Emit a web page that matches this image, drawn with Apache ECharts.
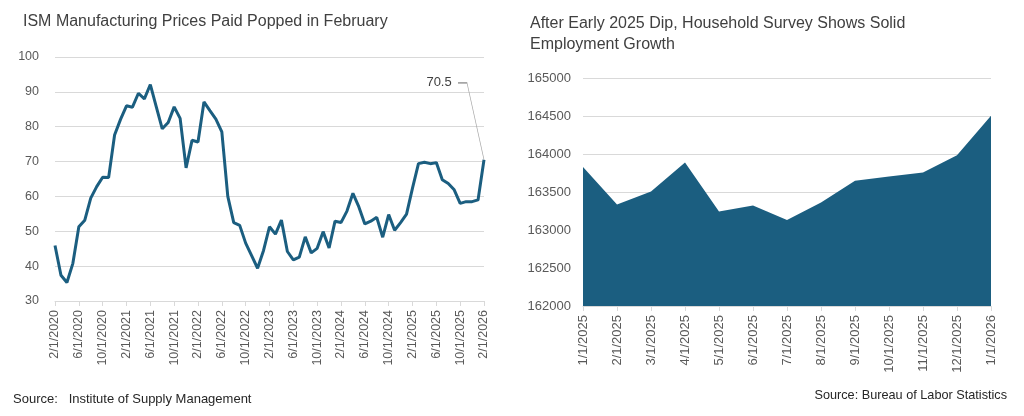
<!DOCTYPE html>
<html><head><meta charset="utf-8">
<script src="https://cdn.jsdelivr.net/npm/echarts@6/dist/echarts.min.js"></script>
<style>html,body{margin:0;padding:0;background:#fff}#c{width:1024px;height:416px}</style>
</head><body><div id="c"></div>
<script>
// ---- Left chart data: ISM Manufacturing Prices Paid, monthly 2/2020 - 2/2026
const ismStart = {year: 2020, month: 2};
const ismCount = 73;
const ismValues = [
  45.9, 37.4, 35.3, 40.8, 51.3, 53.2, 59.5, 62.8, 65.5, 65.4, 77.6,
  82.1, 86.0, 85.6, 89.6, 88.0, 92.1, 85.7, 79.4, 81.2, 85.7, 82.4, 68.2,
  76.1, 75.6, 87.1, 84.6, 82.2, 78.5, 60.0, 52.5, 51.7, 46.6, 43.0, 39.4,
  44.5, 51.3, 49.2, 53.2, 44.2, 41.8, 42.6, 48.4, 43.8, 45.1, 49.9, 45.2,
  52.9, 52.5, 55.8, 60.9, 57.0, 52.1, 52.9, 54.0, 48.3, 54.8, 50.3, 52.5,
  54.9, 62.4, 69.4, 69.8, 69.4, 69.7, 64.8, 63.7, 61.9, 58.0, 58.5, 58.5,
  59.0, 70.5
];
const ismCategories = [];
for (let i = 0; i < ismCount; i++) {
  const m0 = ismStart.month - 1 + i;
  const y = ismStart.year + Math.floor(m0 / 12);
  const m = (m0 % 12) + 1;
  ismCategories.push(m + '/1/' + y);
}
const ismYTicks = {min: 30, max: 100, interval: 10};

// ---- Right chart data: Household survey employment (thousands)
const empCategories = ['1/1/2025','2/1/2025','3/1/2025','4/1/2025','5/1/2025','6/1/2025','7/1/2025','8/1/2025','9/1/2025','10/1/2025','11/1/2025','12/1/2025','1/1/2026'];
const empValues = [163830, 163335, 163506, 163888, 163243, 163322, 163133, 163361, 163647, 163704, 163757, 163985, 164503];
const empYTicks = {min: 162000, max: 165000, interval: 500};

const titles = {
  left: 'ISM Manufacturing Prices Paid Popped in February',
  right: 'After Early 2025 Dip, Household Survey Shows Solid\nEmployment Growth',
  leftSource: 'Source:   Institute of Supply Management',
  rightSource: 'Source: Bureau of Labor Statistics'
};

const FONT = 'Liberation Sans';
const LBL = '#595959';
const GRID = '#d9d9d9';
const BLUE = '#1b5e80';

const lastIdx = ismValues.length - 1;

const chart = echarts.init(document.getElementById('c'), null, {renderer: 'canvas'});
chart.setOption({
  animation: false,
  backgroundColor: '#fff',
  textStyle: {fontFamily: FONT},
  title: [
    {text: titles.left, left: 23, top: 14, padding: 0, textStyle: {fontFamily: FONT, fontSize: 16, fontWeight: 'normal', color: '#404040'}},
    {text: titles.right, left: 530, top: 13, padding: 0, textStyle: {fontFamily: FONT, fontSize: 16, fontWeight: 'normal', color: '#404040', lineHeight: 21}},
    {text: titles.leftSource, left: 13, top: 393, padding: 0, textStyle: {fontFamily: FONT, fontSize: 13, fontWeight: 'normal', color: '#262626'}},
    {text: titles.rightSource, right: 17, top: 389, padding: 0, textStyle: {fontFamily: FONT, fontSize: 12.7, fontWeight: 'normal', color: '#262626'}}
  ],
  grid: [
    {left: 55, top: 57, width: 429, height: 244},
    {left: 583, top: 78, width: 408, height: 228}
  ],
  xAxis: [
    {gridIndex: 0, type: 'category', data: ismCategories, boundaryGap: false,
     axisLine: {lineStyle: {color: GRID}},
     axisTick: {show: true, interval: 3, length: 5, lineStyle: {color: GRID}},
     axisLabel: {interval: 3, rotate: 90, color: LBL, fontSize: 12.5, fontFamily: FONT, margin: 9}},
    {gridIndex: 1, type: 'category', data: empCategories, boundaryGap: false,
     axisLine: {lineStyle: {color: GRID}},
     axisTick: {show: true, interval: 0, length: 5, lineStyle: {color: GRID}},
     axisLabel: {interval: 0, rotate: 90, color: LBL, fontSize: 13, fontFamily: FONT, margin: 9}}
  ],
  yAxis: [
    {gridIndex: 0, type: 'value', min: ismYTicks.min, max: ismYTicks.max, interval: ismYTicks.interval,
     axisLine: {show: false}, axisTick: {show: false},
     splitLine: {lineStyle: {color: GRID, width: 1}},
     axisLabel: {color: LBL, fontSize: 12.5, fontFamily: FONT, margin: 16}},
    {gridIndex: 1, type: 'value', min: empYTicks.min, max: empYTicks.max, interval: empYTicks.interval,
     axisLine: {show: false}, axisTick: {show: false},
     splitLine: {lineStyle: {color: GRID, width: 1}},
     axisLabel: {color: LBL, fontSize: 13, fontFamily: FONT, margin: 12, formatter: v => String(v)}}
  ],
  series: [
    {type: 'line', xAxisIndex: 0, yAxisIndex: 0, data: ismValues, showSymbol: false, symbol: 'none',
     lineStyle: {color: BLUE, width: 3}, itemStyle: {color: BLUE},
     markPoint: {
       silent: true,
       data: [{
         coord: [ismCategories[lastIdx], ismValues[lastIdx]],
         value: ismValues[lastIdx],
         symbol: 'path://M0,0L9,0L26,77',
         symbolSize: [26, 77],
         symbolKeepAspect: false,
         symbolOffset: [-13, -38.5],
         itemStyle: {color: 'rgba(0,0,0,0)', borderColor: '#a6a6a6', borderWidth: 1},
         label: {show: true, position: [-6, 0], align: 'right', verticalAlign: 'middle',
                 formatter: String(ismValues[lastIdx]), color: '#404040', fontSize: 13, fontFamily: FONT}
       }]
     }},
    {type: 'line', xAxisIndex: 1, yAxisIndex: 1, data: empValues, showSymbol: false, symbol: 'none',
     lineStyle: {width: 0}, areaStyle: {color: BLUE, opacity: 1}, itemStyle: {color: BLUE}}
  ]
});
</script>
</body></html>
